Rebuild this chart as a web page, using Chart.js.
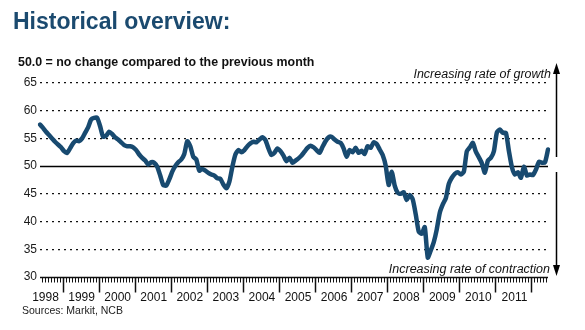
<!DOCTYPE html>
<html>
<head>
<meta charset="utf-8">
<script src="https://cdn.jsdelivr.net/npm/chart.js@4.4.1/dist/chart.umd.min.js"></script>
<style>
  html, body { margin: 0; padding: 0; background: #fff; }
  #wrap { width: 585px; height: 330px; }
</style>
</head>
<body>
<div id="wrap"><canvas id="pmiChart" width="585" height="330"></canvas></div>
<script>
// monthly PMI, first point is May 1998
var startYear = 1998;
var startMonth = 5;
var years = ['1998', '1999', '2000', '2001', '2002', '2003', '2004', '2005', '2006', '2007', '2008', '2009', '2010', '2011'];
var yTicks = [30, 35, 40, 45, 50, 55, 60, 65];
var pmi = [
  57.5, 56.9, 56.2, 55.6, 55.0, 54.4, 53.9, 53.4,                          // 1998
  52.7, 52.4, 53.2, 54.1, 54.6, 54.5, 55.0, 56.0, 57.0, 58.4, 58.7, 58.7,  // 1999
  57.2, 55.3, 55.5, 56.2, 55.8, 55.2, 54.8, 54.3, 53.8, 53.6, 53.6, 53.4,  // 2000
  52.9, 52.1, 51.5, 51.0, 50.3, 50.7, 50.6, 49.9, 48.3, 46.6, 46.5, 47.6,  // 2001
  49.0, 50.0, 50.7, 51.2, 52.2, 54.5, 53.6, 51.7, 51.2, 49.2, 49.5, 49.2,  // 2002
  48.8, 48.5, 48.3, 47.8, 47.7, 46.7, 46.0, 47.2, 49.9, 52.1, 52.9, 52.5,  // 2003
  52.9, 53.6, 54.1, 54.4, 54.3, 54.8, 55.2, 54.7, 53.2, 52.0, 52.4, 53.2,  // 2004
  52.7, 51.9, 50.9, 51.5, 50.6, 51.0, 51.4, 51.9, 52.6, 53.3, 53.7, 53.4,  // 2005
  52.9, 52.4, 53.5, 54.5, 55.2, 55.3, 54.8, 54.4, 54.2, 53.2, 51.7, 52.9,  // 2006
  52.5, 53.3, 52.4, 52.8, 52.2, 53.6, 53.3, 54.3, 54.0, 53.0, 52.0, 50.1,  // 2007
  46.6, 49.0, 46.5, 45.2, 45.0, 45.3, 43.9, 44.8, 44.0, 41.3, 38.2, 37.8,  // 2008
  39.0, 33.5, 34.8, 36.3, 38.6, 41.6, 43.1, 44.2, 46.8, 47.9, 48.6, 48.9,  // 2009
  48.5, 49.0, 52.7, 53.4, 54.2, 52.6, 51.6, 50.5, 48.8, 51.0, 51.5, 52.7,  // 2010
  56.1, 56.6, 56.0, 56.0, 52.7, 49.8, 48.5, 48.9, 47.9, 49.9, 48.3, 48.5,  // 2011
  48.4, 49.4, 50.8, 50.6, 50.7, 53.0                                       // 2012
];

var FONT = "'Liberation Sans', Arial, Helvetica, sans-serif";
var lineBlue = '#184a70';

var labels = pmi.map(function(v, i) {
  var m = startMonth - 1 + i;
  return (startYear + Math.floor(m / 12)) + '-' + ('0' + (m % 12 + 1)).slice(-2);
});

// index (can be fractional) of the boundary before January of a year
function yearStart(y) {
  return (y - startYear) * 12 + (1 - startMonth) - 0.5;
}

var decor = {
  id: 'decor',
  beforeDatasetsDraw: function(chart) {
    var ctx = chart.ctx, area = chart.chartArea;
    var y50 = Math.round(chart.scales.y.getPixelForValue(50)) + 0.5;
    ctx.save();
    ctx.strokeStyle = '#000';
    ctx.lineWidth = 1.6;
    ctx.beginPath();
    ctx.moveTo(area.left, y50);
    ctx.lineTo(area.right, y50);
    ctx.stroke();
    ctx.restore();
  },
  afterDraw: function(chart) {
    var ctx = chart.ctx, area = chart.chartArea, xs = chart.scales.x;
    var base = area.bottom + 0.5;
    ctx.save();

    // x axis line and month ticks
    ctx.strokeStyle = '#111';
    ctx.lineWidth = 1.5;
    ctx.beginPath();
    ctx.moveTo(area.left, base);
    ctx.lineTo(area.right, base);
    ctx.stroke();
    ctx.lineWidth = 1;
    ctx.beginPath();
    for (var k = 0; k <= pmi.length; k++) {
      var px = Math.round(xs.getPixelForValue(k - 0.5)) + 0.5;
      if (px < area.left || px > area.right) continue;
      ctx.moveTo(px, base);
      ctx.lineTo(px, base + 5);
    }
    ctx.stroke();

    // year ticks and labels
    ctx.lineWidth = 1.5;
    ctx.fillStyle = '#111';
    ctx.font = '12px ' + FONT;
    ctx.textAlign = 'center';
    ctx.textBaseline = 'middle';
    years.forEach(function(yr) {
      var y = parseInt(yr, 10);
      var a = xs.getPixelForValue(yearStart(y));
      var b = xs.getPixelForValue(yearStart(y + 1));
      if (b <= area.right) {
        ctx.beginPath();
        ctx.moveTo(Math.round(b) + 0.5, base);
        ctx.lineTo(Math.round(b) + 0.5, base + 15);
        ctx.stroke();
      }
      ctx.fillText(yr, (a + b) / 2 + 1, base + 20);
    });

    // titles
    ctx.textAlign = 'left';
    ctx.textBaseline = 'alphabetic';
    ctx.fillStyle = '#1b4a6f';
    ctx.font = 'bold 23px ' + FONT;
    ctx.fillText('Historical overview:', 13, 29);
    ctx.fillStyle = '#111';
    ctx.font = 'bold 12.4px ' + FONT;
    ctx.fillText('50.0 = no change compared to the previous month', 18, 66);
    ctx.font = '10.5px ' + FONT;
    ctx.fillStyle = '#222';
    ctx.fillText('Sources: Markit, NCB', 22, 314);

    ctx.font = 'italic 12.5px ' + FONT;
    ctx.fillStyle = '#111';
    ctx.textAlign = 'right';
    ctx.fillText('Increasing rate of growth', 551, 78);
    ctx.fillText('Increasing rate of contraction', 550, 273);

    // arrows
    var ax = 556.5;
    ctx.strokeStyle = '#000';
    ctx.fillStyle = '#000';
    ctx.lineWidth = 1.5;
    ctx.beginPath();
    ctx.moveTo(ax, 157);
    ctx.lineTo(ax, 70);
    ctx.moveTo(ax, 172);
    ctx.lineTo(ax, 268);
    ctx.stroke();
    ctx.beginPath();
    ctx.moveTo(ax, 63);
    ctx.lineTo(ax - 3.5, 74);
    ctx.lineTo(ax + 3.5, 74);
    ctx.closePath();
    ctx.fill();
    ctx.beginPath();
    ctx.moveTo(ax, 276);
    ctx.lineTo(ax - 3.5, 265);
    ctx.lineTo(ax + 3.5, 265);
    ctx.closePath();
    ctx.fill();

    ctx.restore();
  }
};

Chart.defaults.font.family = FONT;

var myChart = new Chart(document.getElementById('pmiChart').getContext('2d'), {
  type: 'line',
  data: {
    labels: labels,
    datasets: [{
      label: 'PMI',
      data: pmi,
      borderColor: lineBlue,
      borderWidth: 4.5,
      borderJoinStyle: 'round',
      borderCapStyle: 'round',
      pointRadius: 0,
      tension: 0.2,
      fill: false
    }]
  },
  options: {
    responsive: false,
    animation: false,
    devicePixelRatio: 1,
    layout: { padding: { top: 83, right: 37, left: 0, bottom: 0 } },
    plugins: {
      legend: { display: false },
      tooltip: { enabled: false },
      title: { display: false }
    },
    scales: {
      x: {
        offset: false,
        afterFit: function(scale) { scale.height = 53; },
        ticks: { display: false },
        grid: { display: false },
        border: { display: false }
      },
      y: {
        min: 30,
        max: 65,
        afterBuildTicks: function(scale) {
          scale.ticks = yTicks.map(function(v) { return { value: v }; });
        },
        afterFit: function(scale) { scale.width = 40; },
        ticks: { padding: 3, color: '#1a1a1a', font: { size: 12 } },
        grid: {
          drawTicks: false,
          lineWidth: 1.3,
          color: function(c) {
            var v = c.tick && c.tick.value;
            return (v === 50 || v === 30) ? 'rgba(0,0,0,0)' : '#111';
          }
        },
        border: { display: false, dash: [2, 4] }
      }
    }
  },
  plugins: [decor]
});
</script>
</body>
</html>
